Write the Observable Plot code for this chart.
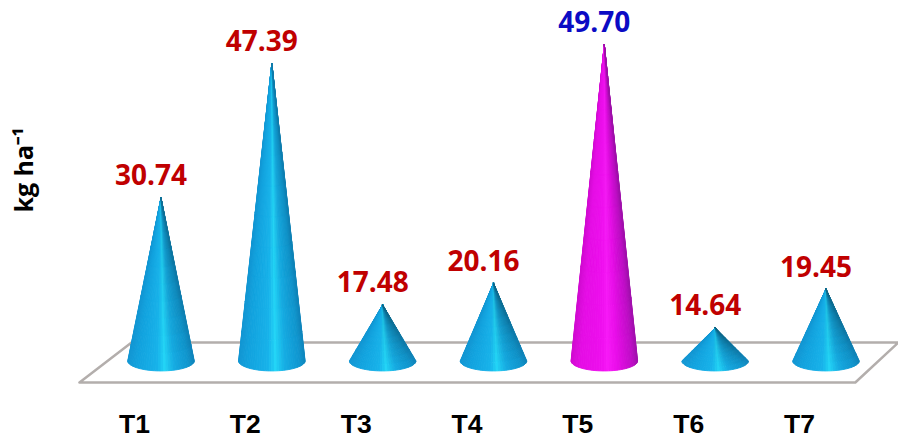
<!DOCTYPE html>
<html>
<head>
<meta charset="utf-8">
<script src="https://cdn.jsdelivr.net/npm/d3@7"></script>
<script src="https://cdn.jsdelivr.net/npm/@observablehq/plot@0.6"></script>
<style>
html, body { margin: 0; padding: 0; background: #fff; overflow: hidden; }
</style>
</head>
<body>
<div id="chart"></div>
<script>
// Treatment yields in kg per hectare
const treatments = ["T1", "T2", "T3", "T4", "T5", "T6", "T7"];
const yields = [30.74, 47.39, 17.48, 20.16, 49.70, 14.64, 19.45];
const highlighted = "T5";

const FONT = "'Open Sans', sans-serif";
const index = treatments.map((_, i) => i);

// Cone footprint, in scale units: half width on x, centre and half depth on y
const baseHalfWidth = 0.3;
const baseCentre = 10.55;
const baseDepth = 1.25;
const slices = 40;
const bands = 10;

const ramp = {
  blue: d3.scaleLinear()
    .domain([-1, -0.72, -0.1, 0.12, 0.4, 0.85, 1])
    .range(["#1295d2", "#12a2de", "#17b2ea", "#22d6f8", "#15aee6", "#1098d2", "#0f88c0"]),
  magenta: d3.scaleLinear()
    .domain([-1, -0.72, -0.1, 0.12, 0.4, 0.85, 1])
    .range(["#d00ad0", "#e40ce4", "#ee0eee", "#f818f8", "#ea0cea", "#c00cc8", "#a410b0"])
};

// Each cone is a mesh of thin quads running from its tip to the rim of its base
const facets = [];
index.forEach((i) => {
  const scheme = treatments[i] === highlighted ? ramp.magenta : ramp.blue;
  const shortness = 1 - 0.7 * (yields[i] - 14) / 36;
  for (let s = 0; s < slices; ++s) {
    const a0 = Math.PI * (1 - s / slices);
    const a1 = Math.PI * (1 - (s + 1) / slices);
    const mid = Math.cos((a0 + a1) / 2);
    for (let b = 0; b < bands; ++b) {
      const t0 = b / bands;
      const t1 = (b + 1) / bands;
      const rim = (a) => [i + baseHalfWidth * Math.cos(a), baseCentre - baseDepth * Math.sin(a)];
      const along = (p, t) => [i + (p[0] - i) * t, yields[i] + (p[1] - yields[i]) * t];
      const top0 = along(rim(a0), t0), top1 = along(rim(a1), t0);
      const low0 = along(rim(a0), t1), low1 = along(rim(a1), t1);
      // Shaded side falls off towards the tip, right of centre; stronger on squat cones
      const shade = Math.max(0, mid + 0.15) * (1 - t0) * 0.8 * shortness;
      const fill = d3.interpolateRgb(scheme(mid), scheme === ramp.blue ? "#0b5f7c" : "#8a1090")(shade);
      const id = `${i}-${s}-${b}`;
      facets.push({id, fill, x1: top0[0], y1: top0[1], x2: top1[0], y2: top1[1]});
      facets.push({id, fill, x1: low0[0], y1: low0[1], x2: low1[0], y2: low1[1]});
    }
  }
});

// Floor plane, drawn behind the cones
const floor = [
  {x: -0.74, y: 7.93},
  {x: -0.27, y: 12.9},
  {x: 6.65, y: 12.9},
  {x: 6.26, y: 7.93},
  {x: -0.74, y: 7.93}
];

const plot = Plot.plot({
  width: 898,
  height: 438,
  margin: 0,
  style: {background: "#fff", fontFamily: FONT},
  x: {domain: [0, 6], range: [161, 826]},
  y: {domain: [0, 55], range: [446, 2.15], axis: null},
  marks: [
    Plot.line(floor, {x: "x", y: "y", stroke: "#b3aeac", strokeWidth: 2.5}),
    Plot.area(facets, {
      x1: "x1", y1: "y1", x2: "x2", y2: "y2", z: "id",
      fill: (d) => d.fill, stroke: (d) => d.fill, strokeWidth: 0.9
    }),
    Plot.text(index, {
      x: (i) => i,
      y: (i) => yields[i],
      text: (i) => yields[i].toFixed(2),
      dx: -10.5,
      dy: -22,
      fontSize: 28,
      fontWeight: 700,
      fill: (i) => treatments[i] === highlighted ? "#0b0bc4" : "#c00000"
    }),
    Plot.axisX(index, {
      anchor: "bottom",
      ticks: index,
      tickSize: 0,
      tickFormat: (i) => treatments[i],
      label: null,
      dx: -27,
      dy: -24,
      fontFamily: "'Liberation Sans', sans-serif",
      fontSize: 26.5,
      fontWeight: 700,
      fill: "#000",
      tickPadding: 0
    }),
    Plot.text(["kg ha⁻¹"], {
      frameAnchor: "left",
      dx: 24,
      dy: -7,
      rotate: -90,
      fontSize: 25,
      fontWeight: 700,
      fill: "#000"
    })
  ]
});

document.getElementById("chart").appendChild(plot);
</script>
</body>
</html>
